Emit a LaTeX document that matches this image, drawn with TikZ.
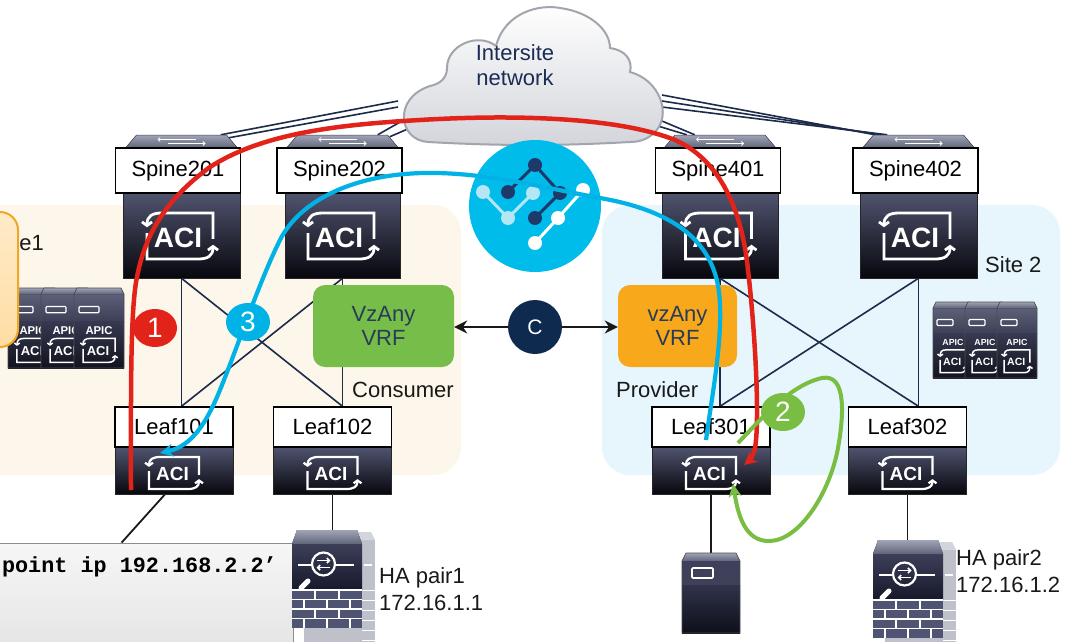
\documentclass[tikz,border=0pt]{standalone}
\usepackage{fontspec}
\setmainfont{Liberation Sans}
\newfontfamily\codefont{Liberation Mono}
\usetikzlibrary{arrows.meta,shapes.geometric,calc}

\pgfdeclarelayer{back}
\pgfdeclarelayer{wires}
\pgfsetlayers{back,wires,main}

\definecolor{navy}{HTML}{1C2B4A}
\definecolor{sitecream}{HTML}{FDF6EA}
\definecolor{siteblue}{HTML}{E6F6FC}
\definecolor{vrfgreen}{HTML}{76BD4A}
\definecolor{vrforange}{HTML}{F7A81B}
\definecolor{cdark}{HTML}{0F2A4F}
\definecolor{redpath}{HTML}{E2231A}
\definecolor{bluepath}{HTML}{00B2E5}
\definecolor{greenpath}{HTML}{79BE43}
\definecolor{iconcyan}{HTML}{00BCEB}
\definecolor{icondark}{HTML}{1D3A6B}
\definecolor{iconlight}{HTML}{B5E6F6}
\definecolor{bodytop}{HTML}{50546F}
\definecolor{bodybot}{HTML}{07070D}
\definecolor{captop}{HTML}{A0A4B6}
\definecolor{capbot}{HTML}{60647A}
\definecolor{textnavy}{HTML}{1B2C55}
\definecolor{vrftext}{HTML}{2A3B58}
\definecolor{cloudedge}{HTML}{A2A5AD}
\definecolor{cloudlow}{HTML}{D3D5DB}
\definecolor{orangeedge}{HTML}{F3A623}
\definecolor{orangetop}{HTML}{FFEBC8}
\definecolor{orangebot}{HTML}{FFDDA3}
\definecolor{apicupA}{HTML}{5C6078}
\definecolor{apicupB}{HTML}{3C3F56}
\definecolor{apiclowA}{HTML}{363950}
\definecolor{apiclowB}{HTML}{12131F}
\definecolor{fwrear}{HTML}{BEC1CA}
\definecolor{fwrearcap}{HTML}{D2D5DC}
\definecolor{fwupA}{HTML}{3C3F58}
\definecolor{fwupB}{HTML}{16182A}
\definecolor{fwbrick}{HTML}{4E5472}
\definecolor{srvup}{HTML}{3E4159}
\definecolor{srvlowA}{HTML}{30334A}
\definecolor{srvlowB}{HTML}{0E0F1A}
\definecolor{clitop}{HTML}{F6F6F6}
\definecolor{clibot}{HTML}{E3E3E3}

\tikzset{
  lbl/.style={draw=black, line width=1.4, fill=white, inner sep=0,
    font=\fontsize{22}{24}\selectfont, minimum height=45, minimum width=125},
  swbody/.style={rectangle, inner sep=0, top color=bodytop, bottom color=bodybot,
    draw=black!85, line width=0.6},
  swtopbox/.style={rectangle, inner sep=0, minimum width=112, minimum height=13},
  link/.style={draw=navy, line width=1.6},
  devlink/.style={draw=black!90, line width=1.8},
  vrfbox/.style={rectangle, rounded corners=12, minimum height=82, inner sep=0,
    font=\fontsize{22}{24}\selectfont, text=vrftext, align=center},
  numball/.style={ellipse, minimum width=44, minimum height=38, inner sep=0,
    text=white, font=\fontsize{28}{28}\selectfont},
  plaintext/.style={inner sep=0, font=\fontsize{22}{27}\selectfont, text=black!90},
  cwire/.style={draw=black!90, line width=2, -{Stealth[length=13pt,width=13pt]}},
  routered/.style={draw=redpath, line width=4.5, -{Stealth[length=13pt,width=13pt]}},
  routeblue/.style={draw=bluepath, line width=4.2, -{Stealth[length=13pt,width=13pt]}},
  routegreen/.style={draw=greenpath, line width=4, -{Stealth[length=13pt,width=13pt]}},
  toparrow/.style={draw=white, line width=0.8, -{Straight Barb[length=2pt,width=4pt]}},
}

% ACI mark: centre x, centre y, half width, half height, font size, stroke width
\newcommand{\acimark}[6]{%
  \begin{scope}[shift={({#1},{#2})}]
    \draw[white, line width=#6, -{Straight Barb[length=0pt 1.3,width=0pt 3.6]}]
      ({-(#3)},{-0.12*(#4)}) -- ({-(#3)},{#4}) -- ({0.55*(#3)},{#4})
      .. controls ({0.85*(#3)},{#4}) and ({#3},{0.85*(#4)}) .. ({#3},{0.38*(#4)});
    \draw[white, line width=#6, -{Straight Barb[length=0pt 1.3,width=0pt 3.6]}]
      ({#3},{0.12*(#4)}) -- ({#3},{-(#4)}) -- ({-0.55*(#3)},{-(#4)})
      .. controls ({-0.85*(#3)},{-(#4)}) and ({-(#3)},{-0.85*(#4)}) .. ({-(#3)},{-0.38*(#4)});
    \node[text=white, inner sep=0, font=\bfseries\fontsize{#5}{#5}\selectfont]
      at ({-0.06*(#3)},{0.06*(#4)}) {ACI};
  \end{scope}}

% Spine chassis top: centre x, centre y
\newcommand{\chassistop}[2]{%
  \fill[top color=captop, bottom color=capbot] ({#1-45},{#2-6.5}) -- ({#1+45},{#2-6.5})
    -- ({#1+56},{#2+6.5}) -- ({#1-56},{#2+6.5}) -- cycle;
  \draw[capbot!70!black, line width=0.5] ({#1-45},{#2-6.5}) -- ({#1+45},{#2-6.5})
    -- ({#1+56},{#2+6.5}) -- ({#1-56},{#2+6.5}) -- cycle;
  \draw[toparrow] ({#1+14},{#2-2}) -- ++(-38,0);
  \draw[toparrow] ({#1-14},{#2+2}) -- ++(38,0);}

% APIC appliance: left x, top y, width, height, label size, mark size
\newcommand{\apicunit}[6]{%
  \begin{scope}[shift={({#1},{#2})}]
    \fill[top color=apicupA, bottom color=apicupB] (0,6) rectangle ({#3},{0.42*#4});
    \fill[top color=captop, bottom color=capbot] (3,0) -- ({#3-3},0) -- ({#3},6) -- (0,6) -- cycle;
    \fill[top color=apiclowA, bottom color=apiclowB] (0,{0.42*#4}) rectangle ({#3},{#4});
    \draw[black!70, line width=0.6] (3,0) -- ({#3-3},0) -- ({#3},6) -- ({#3},{#4}) -- (0,{#4}) -- (0,6) -- cycle;
    \draw[white, line width=1.2, rounded corners=1] ({0.1*#3},{0.23*#4}) rectangle ({0.5*#3},{0.31*#4});
    \node[text=white, inner sep=0, font=\bfseries\fontsize{#5}{#5}\selectfont] at ({0.5*#3},{0.53*#4}) {APIC};
    \acimark{0.5*#3}{0.78*#4}{0.32*#3}{0.15*#4}{#6}{1.5}
  \end{scope}}

% Firewall pair, front unit top-left corner
\newcommand{\firewallpair}[2]{%
  \begin{scope}[shift={(#1,#2)}]
    \fill[fwrear] (12,10) rectangle (83,115);
    \fill[fwrearcap] (16,2) -- (79,2) -- (83,10) -- (12,10) -- cycle;
    \foreach \yy in {60,70,80,90,100,110} \draw[white, line width=0.9] (70,\yy) -- (83,\yy);
    \draw[white, line width=1.5] (72,35) -- (80,35);
    \fill[top color=captop, bottom color=capbot] (5,0) -- (65,0) -- (70,14) -- (0,14) -- cycle;
    \fill[top color=fwupA, bottom color=fwupB] (0,14) rectangle (70,60);
    \fill[fwbrick] (0,60) rectangle (70,98);
    \foreach \yy in {60,69.5,79,88.5} \draw[white, line width=1.1] (0,\yy) -- (70,\yy);
    \foreach \xx in {23,47} {\draw[white, line width=1.1] (\xx,60) -- (\xx,69.5) (\xx,79) -- (\xx,88.5);}
    \foreach \xx in {12,35,58} {\draw[white, line width=1.1] (\xx,69.5) -- (\xx,79) (\xx,88.5) -- (\xx,98);}
    \draw[white, line width=2.2] (31.5,34) circle[radius=11.5];
    \draw[white, line width=1.6, -{Straight Barb[length=2.5pt,width=5pt]}] (25,30.5) -- (38.5,30.5);
    \draw[white, line width=1.6, -{Straight Barb[length=2.5pt,width=5pt]}] (38,37.5) -- (24.5,37.5);
    \draw[white, line width=1.6] (6,35) -- (19.5,35) (43.5,35) -- (62,35);
    \draw[white, line width=5, line cap=round] (9,58) -- (16,51);
  \end{scope}}

% Server, top-left corner
\newcommand{\servericon}[2]{%
  \begin{scope}[shift={(#1,#2)}]
    \fill[top color=captop, bottom color=capbot] (4,0) -- (54,0) -- (58,8) -- (0,8) -- cycle;
    \fill[srvup] (0,8) rectangle (58,32);
    \draw[white, line width=1.6, rounded corners=1] (10,15) rectangle (31,25);
    \fill[top color=srvlowA, bottom color=srvlowB] (0,32) rectangle (58,80);
    \draw[black!70, line width=0.6] (4,0) -- (54,0) -- (58,8) -- (58,80) -- (0,80) -- (0,8) -- cycle;
  \end{scope}}

\begin{document}
\begin{tikzpicture}[x=1pt,y=-1pt]
\useasboundingbox (0,0) rectangle (1066,642);

% ---------- site areas ----------
\begin{pgfonlayer}{back}
  \fill[white] (0,0) rectangle (1066,642);
  \fill[sitecream, rounded corners=28] (-40,205) rectangle (461,475);
  \fill[siteblue, rounded corners=28] (602,205) rectangle (1060,475);
\end{pgfonlayer}

\node[plaintext, anchor=west] (site2) at (985,265) {Site 2};

% APIC clusters
\apicunit{8}{288}{50}{80}{11.3}{13}
\apicunit{41}{288}{50}{80}{11.3}{13}
\apicunit{74}{288}{50}{80}{11.3}{13}
\apicunit{933}{302}{40}{76}{8.8}{10.5}
\apicunit{965}{302}{40}{76}{8.8}{10.5}
\apicunit{997}{302}{40}{76}{8.8}{10.5}

% callout at the left edge
\draw[draw=orangeedge, line width=2, rounded corners=18, top color=orangetop, bottom color=orangebot]
  (-40,212) rectangle (18,347);
\node[plaintext, anchor=east] (site1) at (44,243) {e1};

% ---------- intersite network cloud ----------
\draw[draw=cloudedge, line width=2, top color=white, bottom color=cloudlow]
  (428,142) .. controls (398,140) and (393,98) .. (430,86)
  .. controls (440,84) and (447,78) .. (447,68)
  .. controls (447,45) and (478,32) .. (496,46)
  .. controls (505,12) and (540,4) .. (560,8)
  .. controls (590,12) and (610,30) .. (610,48)
  .. controls (625,50) and (633,60) .. (630,72)
  .. controls (660,80) and (672,115) .. (655,132)
  .. controls (648,139) and (640,142) .. (630,142)
  .. controls (560,146) and (500,146) .. (428,142) -- cycle;
\node[inner sep=0, align=center, text=textnavy, font=\fontsize{22}{25}\selectfont] (cloud) at (515,65) {Intersite\\network};

% ---------- spines ----------
\chassistop{181.5}{141.5}
\chassistop{342.5}{141.5}
\chassistop{720}{141.5}
\chassistop{918.5}{141.5}
\node[swtopbox] (s201t) at (181.5,141.5) {};
\node[swtopbox] (s202t) at (342.5,141.5) {};
\node[swtopbox] (s401t) at (720,141.5) {};
\node[swtopbox] (s402t) at (918.5,141.5) {};

\node[swbody, minimum width=117, minimum height=85] (s201b) at (181.5,235.5) {};
\node[swbody, minimum width=115, minimum height=85] (s202b) at (342.5,235.5) {};
\node[swbody, minimum width=116, minimum height=85] (s401b) at (720,235.5) {};
\node[swbody, minimum width=117, minimum height=85] (s402b) at (918.5,235.5) {};
\node[lbl] (s201) at (178,170.5) {Spine201};
\node[lbl] (s202) at (339.5,170.5) {Spine202};
\node[lbl] (s401) at (718,170.5) {Spine401};
\node[lbl] (s402) at (915.5,170.5) {Spine402};
\acimark{180}{236}{33}{23}{28}{2.8}
\acimark{341}{236}{33}{23}{28}{2.8}
\acimark{718.5}{236}{33}{23}{28}{2.8}
\acimark{917}{236}{33}{23}{28}{2.8}

% ---------- leaves ----------
\node[swbody, minimum width=118, minimum height=47] (l101b) at (174,470.5) {};
\node[swbody, minimum width=118, minimum height=47] (l102b) at (332.5,470.5) {};
\node[swbody, minimum width=118, minimum height=47] (l301b) at (711,470.5) {};
\node[swbody, minimum width=118, minimum height=47] (l302b) at (907.5,470.5) {};
\node[lbl, minimum width=118, minimum height=40] (l101) at (174,427) {Leaf101};
\node[lbl, minimum width=118, minimum height=40] (l102) at (332.5,427) {Leaf102};
\node[lbl, minimum width=118, minimum height=40] (l301) at (711,427) {Leaf301};
\node[lbl, minimum width=118, minimum height=40] (l302) at (907.5,427) {Leaf302};
\acimark{174}{473}{25}{16}{19}{2.2}
\acimark{332.5}{473}{25}{16}{19}{2.2}
\acimark{711}{473}{25}{16}{19}{2.2}
\acimark{907.5}{473}{25}{16}{19}{2.2}

% ---------- attached devices ----------
\node[draw=black!45, line width=0.8, top color=clitop, bottom color=clibot,
      minimum width=303, minimum height=117, inner sep=0] (cli) at (141.5,601.5) {};
\node[anchor=east, inner sep=0, font=\codefont\bfseries\fontsize{21.8}{22}\selectfont] (clitext) at (277,567) {point ip 192.168.2.2’};

\firewallpair{292}{530}
\node[minimum width=70, minimum height=98, inner sep=0] (fw1) at (327,579) {};
\firewallpair{873}{540}
\node[minimum width=70, minimum height=98, inner sep=0] (fw2) at (908,589) {};
\servericon{682}{553}
\node[minimum width=58, minimum height=80, inner sep=0] (srv) at (711,593) {};

\node[plaintext, anchor=west, align=left] (ha1) at (379,589) {HA pair1\\172.16.1.1};
\node[plaintext, anchor=west, align=left] (ha2) at (956,571) {HA pair2\\172.16.1.2};

% ---------- fabric wiring ----------
\begin{pgfonlayer}{wires}
  \draw[link] (s201b.south) -- (s201b.south |- l101.north);
  \draw[link] (s202b.south) -- (s202b.south |- l102.north);
  \draw[link] (s201b.south) -- (s202b.south |- l102.north);
  \draw[link] (s201b.south |- l101.north) -- (s202b.south);
  \draw[link] (s401b.south) -- (s401b.south |- l301.north);
  \draw[link] (s402b.south) -- (s402b.south |- l302.north);
  \draw[link] (s401b.south) -- (s402b.south |- l302.north);
  \draw[link] (s401b.south |- l301.north) -- (s402b.south);
  % spines to the intersite network
  \draw[link] (398,101) -- ($(s201t.north east)+(-17,0)$);
  \draw[link] (398,107) -- ($(s201t.north east)+(-9,3)$);
  \draw[link] (402,121) -- ($(s202t.north east)+(-21,0)$);
  \draw[link] (410,128) -- ($(s202t.north east)+(-9,2)$);
  \draw[link] (662,95) -- ($(s402t.north west)+(13,0)$);
  \draw[link] (662,101) -- ($(s402t.north west)+(19,0)$);
  \draw[link] (662,107) -- ($(s402t.north west)+(25,0)$);
  \draw[link] (650,116) -- ($(s401t.north west)+(31,0)$);
  \draw[link] (648,123) -- ($(s401t.north west)+(23,0)$);
  % leaves to endpoints
  \draw[devlink] ($(l101b.south)+(-9,0)$) -- ($(cli.north west)+(132,0)$);
  \draw[devlink] (l102b.south) -- (l102b.south |- fw1.north);
  \draw[devlink] (l301b.south) -- (l301b.south |- srv.north);
  \draw[devlink] (l302b.south) -- (l302b.south |- fw2.north);
\end{pgfonlayer}

% ---------- VRFs and contract ----------
\node[vrfbox, fill=vrfgreen, minimum width=141] (vrf1) at (383.5,326) {VzAny\\VRF};
\node[vrfbox, fill=vrforange, minimum width=119] (vrf2) at (677.5,326) {vzAny\\VRF};
\node[circle, fill=cdark, minimum size=54, inner sep=0, text=white,
      font=\fontsize{21}{21}\selectfont] (cnode) at (535,327) {C};
\draw[cwire] (cnode.west) -- (cnode.west -| vrf1.east);
\draw[cwire] (cnode.east) -- (cnode.east -| vrf2.west);
\node[plaintext, anchor=west] (cons) at (352,390) {Consumer};
\node[plaintext, anchor=west] (prov) at (616,390) {Provider};

% ---------- orchestrator emblem ----------
\node[circle, fill=iconcyan, minimum size=132, inner sep=0] (mso) at (535,206) {};
\draw[iconlight, line width=3] (483,192) -- (508,218) -- (533,193);
\draw[icondark, line width=3] (508,192) -- (535,165) -- (560,193) -- (535,218);
\draw[white, line width=3] (583,190) -- (558,218) -- (535,243);
\foreach \p in {(483,192),(508,218),(533,193)} \fill[iconlight] \p circle[radius=7];
\foreach \p in {(535,165),(508,192),(560,193),(535,218)} \fill[icondark] \p circle[radius=7];
\foreach \p in {(583,190),(558,218),(535,243)} \fill[white] \p circle[radius=7];

% ---------- traffic paths ----------
\draw[routered] (131,490) .. controls (131,400) and (130,310) .. (137,277)
  .. controls (145,235) and (165,200) .. (210,167)
  .. controls (260,135) and (330,125) .. (420,120)
  .. controls (520,114) and (620,118) .. (675,140)
  .. controls (720,160) and (742,210) .. (748,270)
  .. controls (755,330) and (760,420) .. (755,448)
  .. controls (753,456) and (750,460) .. (744,465);
\draw[routeblue] (706,440) .. controls (712,395) and (724,335) .. (719,292)
  .. controls (713,245) and (680,212) .. (600,198)
  .. controls (545,188) and (485,172) .. (425,173)
  .. controls (355,174) and (300,200) .. (280,240)
  .. controls (260,280) and (240,340) .. (222,385)
  .. controls (207,423) and (192,446) .. (160,453);
\draw[routegreen] (738,443) .. controls (760,420) and (790,385) .. (822,378)
  .. controls (848,373) and (843,420) .. (838,448)
  .. controls (830,492) and (800,540) .. (770,541)
  .. controls (745,542) and (738,515) .. (733,484);

\node[numball, fill=redpath] (n1) at (155,328) {1};
\node[numball, fill=greenpath] (n2) at (783,412) {2};
\node[numball, fill=bluepath] (n3) at (248,322) {3};
\end{tikzpicture}
\end{document}
